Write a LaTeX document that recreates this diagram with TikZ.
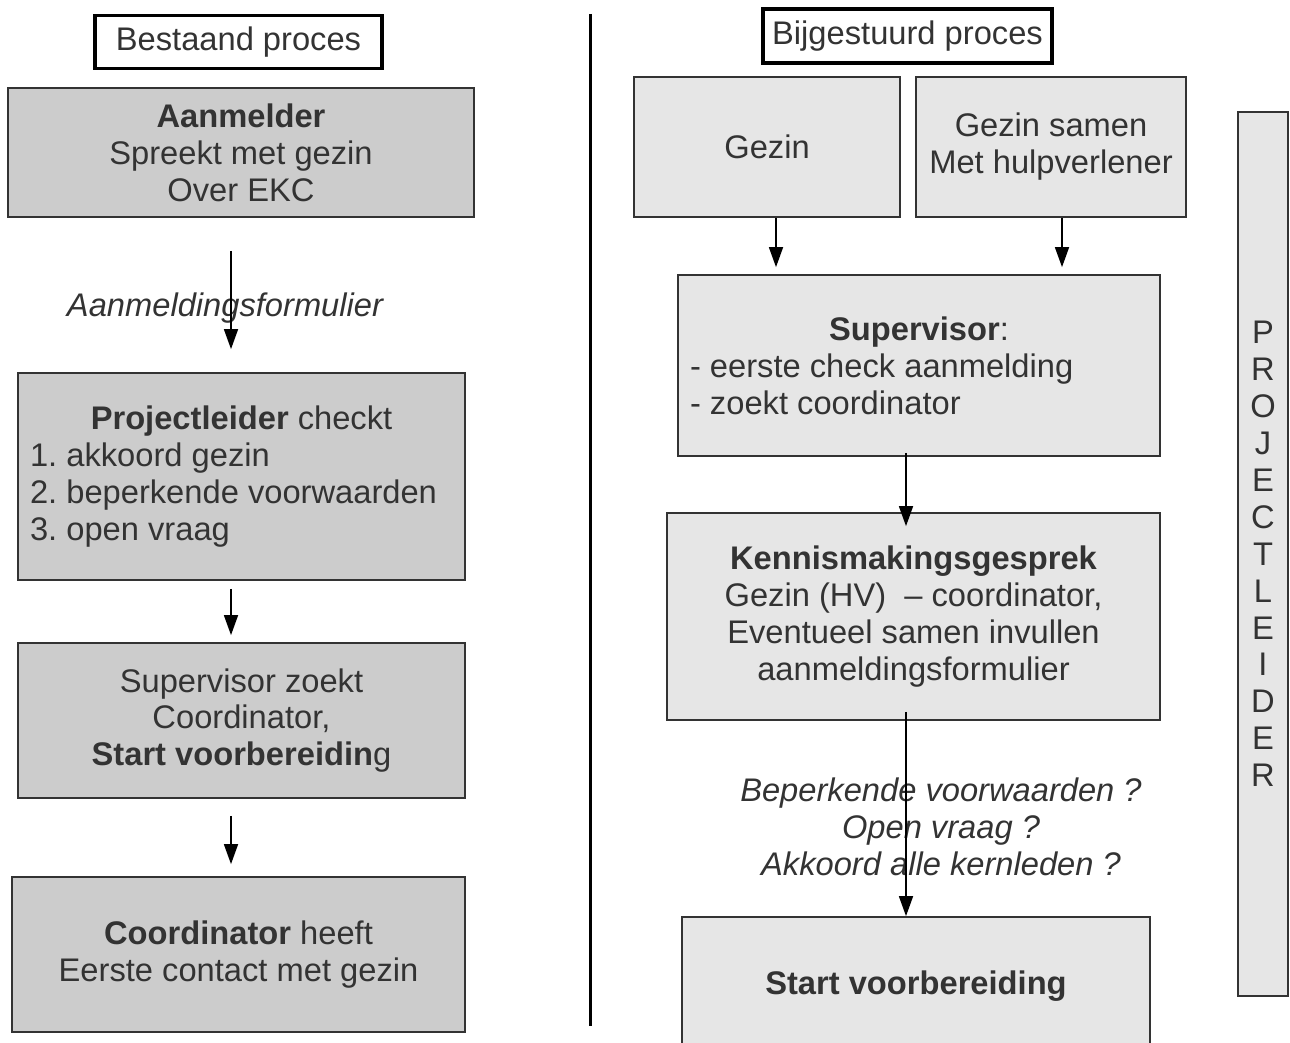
\documentclass[tikz,border=0pt]{standalone}
\usepackage{fontspec}
\setmainfont{Liberation Sans}
\usepackage{tikz}
\usetikzlibrary{arrows.meta}
\usepackage{xcolor}
\definecolor{oldfill}{HTML}{CCCCCC}
\definecolor{newfill}{HTML}{E6E6E6}
\definecolor{inkgray}{HTML}{333333}
\newcommand\flowfont{\fontsize{18.6}{21}\selectfont\frenchspacing}

\begin{document}
\begin{tikzpicture}[x=0.02cm,y=-0.02cm,>={Triangle[length=4mm,width=2.8mm]},font=\flowfont,text=inkgray,
  oldbox/.style={draw=inkgray,line width=1pt,fill=oldfill,align=center,inner sep=0pt},
  newbox/.style={draw=inkgray,line width=1pt,fill=newfill,align=center,inner sep=0pt},
  headbox/.style={draw=black,line width=2.2pt,fill=white,inner sep=0pt},
  flow/.style={->,line width=0.9pt,black},
  note/.style={font=\flowfont\itshape,align=center}]
\useasboundingbox (0,0) rectangle (1290,1043);
% bestaand proces
\node[headbox,minimum width=5.74cm,minimum height=1.06cm] (headold) at (238.5,42) {Bestaand proces};
\node[oldbox,minimum width=9.32cm,minimum height=2.58cm] (aanm) at (241,152.5) {\textbf{Aanmelder}\\Spreekt met gezin\\Over EKC};
\node[oldbox,minimum width=8.94cm,minimum height=4.14cm] (projl) at (241.5,476.5) {\textbf{Projectleider} checkt\\\makebox[8.46cm][l]{1. akkoord gezin}\\\makebox[8.46cm][l]{2. beperkende voorwaarden}\\\makebox[8.46cm][l]{3. open vraag}};
\node[oldbox,minimum width=8.94cm,minimum height=3.1cm] (supz) at (241.5,720.5) {Supervisor zoekt\\Coordinator,\\\textbf{Start voorbereidin}g};
\node[oldbox,minimum width=9.06cm,minimum height=3.1cm] (coord) at (238.5,954.5) {\textbf{Coordinator} heeft\\Eerste contact met gezin};
\node[note] (formlabel) at (225,308) {Aanmeldingsformulier};
\coordinate (spineL) at (231,0);
\draw[flow,shorten <=0.66cm,shorten >=0.46cm] (aanm.south -| spineL) -- (projl.north -| spineL);
\draw[flow,shorten <=0.16cm,shorten >=0.14cm] (projl.south -| spineL) -- (supz.north -| spineL);
\draw[flow,shorten <=0.34cm,shorten >=0.24cm] (supz.south -| spineL) -- (coord.north -| spineL);
% scheiding
\draw[line width=1.7pt,black] (590,14) -- (590,1026);
% bijgestuurd proces
\node[headbox,minimum width=5.78cm,minimum height=1.08cm] (headnew) at (907.5,36) {Bijgestuurd proces};
\node[newbox,minimum width=5.32cm,minimum height=2.8cm] (gezin) at (767,147) {Gezin};
\node[newbox,minimum width=5.4cm,minimum height=2.8cm] (gezinhv) at (1051,147) {Gezin samen\\Met hulpverlener};
\node[newbox,minimum width=9.64cm,minimum height=3.62cm] (superv) at (919,365.5) {\textbf{Supervisor}:\\\makebox[9.16cm][l]{- eerste check aanmelding}\\\makebox[9.16cm][l]{- zoekt coordinator}};
\node[newbox,minimum width=9.86cm,minimum height=4.14cm] (kenn) at (913.5,616.5) {\textbf{Kennismakingsgesprek}\\Gezin (HV)\ \ – coordinator,\\Eventueel samen invullen\\aanmeldingsformulier};
\node[newbox,minimum width=9.36cm,minimum height=2.76cm] (start) at (916,986) {\textbf{Start voorbereiding}};
\node[newbox,minimum width=1cm,minimum height=17.68cm] (pleider) at (1263,554) {P\\R\\O\\J\\E\\C\\T\\L\\E\\I\\D\\E\\R};
\node[note] (checks) at (941,827) {Beperkende voorwaarden ?\\Open vraag ?\\Akkoord alle kernleden ?};
\coordinate (spineA) at (776,0);
\coordinate (spineB) at (1062,0);
\coordinate (spineR) at (906,0);
\draw[flow,shorten >=0.14cm] (gezin.south -| spineA) -- (superv.north -| spineA);
\draw[flow,shorten >=0.14cm] (gezinhv.south -| spineB) -- (superv.north -| spineB);
\draw[flow,shorten <=-0.08cm,shorten >=-0.28cm] (superv.south -| spineR) -- (kenn.north -| spineR);
\draw[flow,shorten <=-0.18cm] (kenn.south -| spineR) -- (start.north -| spineR);
\end{tikzpicture}
\end{document}
